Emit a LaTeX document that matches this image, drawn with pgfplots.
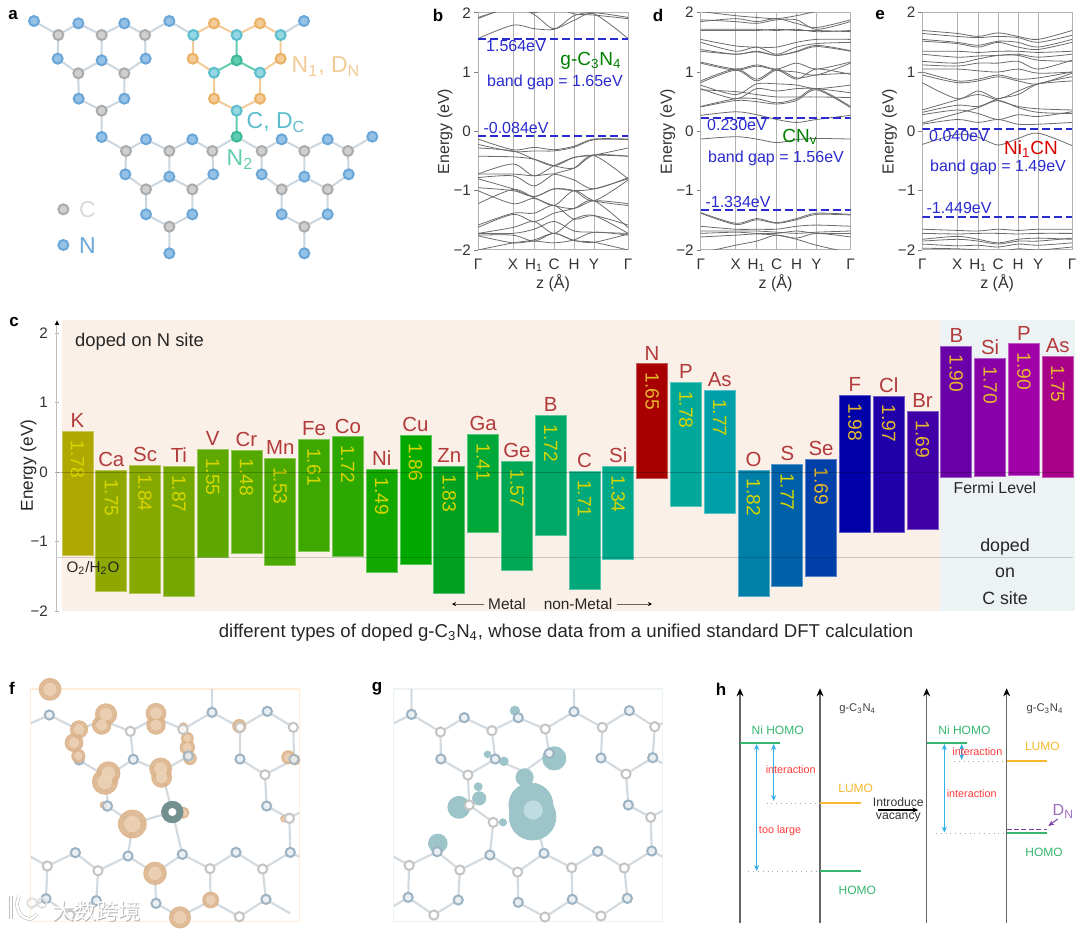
\documentclass[border=0pt]{standalone}
\usepackage{fontspec}
\setmainfont{Liberation Sans}
\newfontfamily\cjk{Noto Sans CJK SC}
\usepackage{pgfplots}
\pgfplotsset{compat=1.18}
\usetikzlibrary{arrows.meta}

\newcommand\fs[1]{\fontsize{#1}{#1}\selectfont}
\newcommand\sub[1]{\textsubscript{#1}}
\newcommand\lft[1]{#1\hspace{5pt}}

\definecolor{bondc}{HTML}{CAD6E0}
\definecolor{cfill}{HTML}{CFCFCF}\definecolor{cring}{HTML}{ABABAB}
\definecolor{nfill}{HTML}{94C1E6}\definecolor{nring}{HTML}{6BA6D8}
\definecolor{tfill}{HTML}{93D7E3}\definecolor{tring}{HTML}{5CBDCE}
\definecolor{ofill}{HTML}{F3CB96}\definecolor{oring}{HTML}{EAB064}
\definecolor{gfill}{HTML}{5FCDB0}\definecolor{gring}{HTML}{3DB99A}
\definecolor{elem}{HTML}{B23A3A}
\definecolor{vy}{HTML}{D8D600}\definecolor{vo}{HTML}{E6B92E}
\definecolor{gapblue}{HTML}{2A2AD0}
\definecolor{peach}{HTML}{FAF0E8}\definecolor{ice}{HTML}{EDF3F5}
\definecolor{fblob}{HTML}{DCB48C}\definecolor{fin}{HTML}{EDD3B8}
\definecolor{gblob}{HTML}{9CC4C9}\definecolor{gin}{HTML}{BFDDE0}
\definecolor{gatomf}{HTML}{E9EFF3}\definecolor{gatomr}{HTML}{9DB2C2}
\definecolor{cgatomr}{HTML}{C4C4C4}\definecolor{bondl}{HTML}{D3DBE0}
\definecolor{hgreen}{HTML}{35B56E}\definecolor{horange}{HTML}{F5B82E}
\definecolor{hcyan}{HTML}{30B0E8}\definecolor{hred}{HTML}{FF3A3A}\definecolor{hviolet}{HTML}{7B3FA8}
\definecolor{b0}{HTML}{AEA800}\definecolor{b1}{HTML}{8EA800}\definecolor{b2}{HTML}{86A800}
\definecolor{b3}{HTML}{74A800}\definecolor{b4}{HTML}{5FA800}\definecolor{b5}{HTML}{55A800}
\definecolor{b6}{HTML}{4AA800}\definecolor{b7}{HTML}{3CA800}\definecolor{b8}{HTML}{2CA800}
\definecolor{b9}{HTML}{12A800}\definecolor{b10}{HTML}{00A800}\definecolor{b11}{HTML}{00A020}
\definecolor{b12}{HTML}{00A83A}\definecolor{b13}{HTML}{00A855}\definecolor{b14}{HTML}{00A868}
\definecolor{b15}{HTML}{00A87A}\definecolor{b16}{HTML}{00A88A}\definecolor{b17}{HTML}{A80000}
\definecolor{b18}{HTML}{00A89A}\definecolor{b19}{HTML}{009FAA}\definecolor{b20}{HTML}{0080A8}
\definecolor{b21}{HTML}{0060A8}\definecolor{b22}{HTML}{0040A8}\definecolor{b23}{HTML}{0000A8}
\definecolor{b24}{HTML}{2000A8}\definecolor{b25}{HTML}{4000A8}\definecolor{b26}{HTML}{6A00A8}
\definecolor{b27}{HTML}{8800A8}\definecolor{b28}{HTML}{A000A8}\definecolor{b29}{HTML}{A80088}

% region of the reference, in its pixels: left, top, right, bottom (1 px = 0.5 pt)
\pgfplotsset{
  region/.style n args={4}{
    at={({0.5pt*#1},{0.5pt*(931-#4)})}, anchor=south west, scale only axis,
    width={0.5pt*(#3-#1)}, height={0.5pt*(#4-#2)}},
  canvas/.style={hide axis, clip=false, y dir=reverse},
  bandaxis/.style={
    xmin=0, xmax=150, ymin=-2, ymax=2,
    xtick={0,35,56,76,96,116,150},
    xticklabels={Γ,X,H\sub{1},C,H,Y,Γ},
    ytick={-2,-1,0,1,2}, yticklabels={−2,−1,0,1,2},
    xmajorgrids, grid style={black!30,line width=.4pt},
    axis line style={black!30,line width=.5pt},
    tick pos=left, tick align=outside, major tick length=2pt,
    y tick style={black!50}, x tick style={draw=none},
    tick label style={font=\fs{7.6}, text=black!80},
    xticklabel style={yshift=1pt}, yticklabel style={xshift=2pt},
    xlabel={z (Å)}, ylabel={Energy (eV)},
    label style={font=\fs{8}, text=black!80},
    xlabel style={at={(axis description cs:0.5,-0.14)},anchor=center},
    ylabel style={at={(axis description cs:-0.22,0.5)},anchor=center}},
  band/.style={black!58,line width=.4pt,smooth,tension=.5},
  gapline/.style={gapblue,line width=1pt,dash pattern=on 4pt off 2pt},
  bond/.style={bondc,line width=1pt,unbounded coords=jump},
  lbond/.style={bondl,line width=1.1pt,unbounded coords=jump},
  atom/.style n args={3}{only marks,mark=*,mark size=#3,
    mark options={fill=#1,draw=#2,line width=1pt}},
  blob/.style n args={2}{only marks,mark=*,
    visualization depends on={#1*\thisrow{r}/6 \as \perpointmarksize},
    scatter, scatter/@pre marker code/.style={/tikz/mark size=\perpointmarksize},
    scatter/@post marker code/.style={},
    mark options={fill=#2,draw=#2}},
  harrow/.style={hcyan,line width=.55pt,{Stealth[length=3pt,width=2.5pt]}-{Stealth[length=3pt,width=2.5pt]}},
}

% one Gamma-X-H1-C-H-Y-Gamma band
\newcommand\bb[7]{\addplot[band] coordinates {(0,#1)(35,#2)(56,#3)(76,#4)(96,#5)(116,#6)(150,#7)};}
% one level bar: id, left, right, top, bottom, element, gap, colour of the gap
\newcommand\lev[8]{%
  \addplot[fill=b#1,draw=b#1!65!white,line width=.4pt] coordinates {(#2,#5)(#3,#5)(#3,#4)(#2,#4)} -- cycle;
  \node[anchor=south,font=\fs{10.2},text=elem,inner sep=0pt,yshift=1.6pt] at (axis cs:{#2+15.5},#4) {#6};
  \node[rotate=-90,anchor=west,font=\fs{9.6},text=#8,inner sep=0pt,xshift=4.2pt] at (axis cs:{#2+15.5},#4) {#7};
}

\pgfplotstableread{
x y r
150 58 33
318 133 32
305 165 28
237 178 26
222 218 27
235 258 20
468 130 30
468 165 28
550 170 12
562 205 18
562 232 22
570 265 19
718 168 20
865 262 20
885 270 15
482 297 33
485 322 30
315 335 38
325 310 35
310 405 10
397 462 42
550 428 17
465 610 34
632 690 24
540 742 32
852 446 10
}\blobsf
\pgfplotstableread{
x y r
548 440 70
543 405 66
524 322 26
327 412 33
388 385 20
385 350 12
613 265 35
495 122 14
413 253 10
462 274 13
459 457 11
264 520 28
}\blobsg

\begin{document}
\begin{tikzpicture}
\path[use as bounding box] (0,0) rectangle (540pt,465.5pt);

% a: lattice, coordinates at three times the reference's pixels
\begin{axis}[region={0}{0}{420}{300},canvas,xmin=0,xmax=1260,ymin=0,ymax=900]
\addplot[bond] coordinates {(102,63)(175,105)(235,70)(305,105)(373,70)(435,105)(508,63)(580,105)
 (0,nan)(175,105)(173,176)(235,220)(305,181)(373,220)(437,176)(435,105)
 (0,nan)(305,105)(305,181)
 (0,nan)(235,220)(236,296)(305,332)(373,296)(373,220)
 (0,nan)(305,332)(305,411)(378,453)(438,418)(508,453)(577,418)(637,453)(710,410)(785,453)(845,418)(913,453)(983,418)(1044,453)(1117,410)
 (0,nan)(378,453)(376,523)(438,568)(508,530)(577,568)(640,523)(637,453)
 (0,nan)(508,453)(508,530)
 (0,nan)(438,568)(438,643)(508,680)(577,643)(577,568)
 (0,nan)(508,680)(508,760)
 (0,nan)(785,453)(785,523)(845,568)(913,530)(983,568)(1046,523)(1044,453)
 (0,nan)(913,453)(913,530)
 (0,nan)(845,568)(845,643)(913,680)(983,643)(983,568)
 (0,nan)(913,680)(913,760)
 (0,nan)(842,105)(912,63)};
\addplot[ofill,line width=1pt,unbounded coords=jump] coordinates {(580,105)(642,70)(710,105)(780,70)(842,105)(842,176)(780,218)
 (0,nan)(580,105)(578,176)(642,218)(642,296)(710,332)(780,296)(780,218)};
\addplot[gfill,line width=1pt,unbounded coords=jump] coordinates {(642,218)(710,181)(780,218)(0,nan)(710,105)(710,181)(0,nan)(710,332)(710,410)};
\addplot[atom={cfill}{cring}{2.5pt}] coordinates {(175,105)(305,105)(435,105)(235,220)(373,220)(305,332)
 (378,453)(508,453)(637,453)(438,568)(577,568)(508,680)(785,453)(913,453)(1044,453)(845,568)(983,568)(913,680)(190,628)};
\addplot[atom={nfill}{nring}{2.5pt}] coordinates {(102,63)(235,70)(373,70)(508,63)(173,176)(305,181)(437,176)(236,296)(373,296)(305,411)
 (438,418)(577,418)(376,523)(508,530)(640,523)(438,643)(577,643)(508,760)
 (845,418)(983,418)(1117,410)(785,523)(913,530)(1046,523)(845,643)(983,643)(913,760)(912,63)(190,735)};
\addplot[atom={tfill}{tring}{2.5pt}] coordinates {(580,105)(710,105)(842,105)(642,218)(780,218)(710,332)};
\addplot[atom={ofill}{oring}{2.5pt}] coordinates {(642,70)(780,70)(578,176)(842,176)(642,296)(780,296)};
\addplot[atom={gfill}{gring}{2.5pt}] coordinates {(710,181)(710,410)};
\node[font=\fs{11.5},text=ofill] at (axis cs:978,200) {N\sub{1}, D\sub{N}};
\node[font=\fs{11.5},text=tring] at (axis cs:828,368) {C, D\sub{C}};
\node[font=\fs{11.5},text=gfill] at (axis cs:720,478) {N\sub{2}};
\node[font=\fs{11.5},text=black!15] at (axis cs:262,630) {C};
\node[font=\fs{11.5},text=nring] at (axis cs:262,738) {N};
\end{axis}

% b
\begin{axis}[region={478}{12.7}{628}{250},bandaxis]
\bb{1.564}{1.79}{1.73}{1.72}{1.87}{1.98}{1.564}
\bb{1.92}{2.08}{1.97}{1.73}{1.95}{2.0}{1.92}
\bb{1.90}{2.10}{2.0}{2.10}{1.98}{1.96}{1.90}
\bb{-0.13}{-0.31}{-0.27}{-0.31}{-0.25}{-0.13}{-0.13}
\bb{-0.22}{-0.34}{-0.33}{-0.33}{-0.27}{-0.14}{-0.14}
\bb{-0.28}{-0.33}{-0.47}{-0.58}{-0.44}{-0.40}{-0.28}
\bb{-0.42}{-0.43}{-0.47}{-0.58}{-0.62}{-0.40}{-0.42}
\bb{-0.72}{-0.55}{-0.75}{-0.58}{-0.44}{-0.40}{-0.42}
\bb{-0.72}{-0.72}{-0.75}{-0.72}{-0.82}{-0.97}{-0.78}
\bb{-0.78}{-0.75}{-0.92}{-0.72}{-0.62}{-0.41}{-0.80}
\bb{-0.80}{-0.97}{-1.10}{-0.97}{-1.0}{-1.17}{-0.82}
\bb{-0.95}{-1.0}{-1.10}{-0.97}{-1.0}{-0.97}{-0.80}
\bb{-1.22}{-0.98}{-1.12}{-1.25}{-1.30}{-1.17}{-1.22}
\bb{-1.0}{-1.22}{-1.13}{-1.25}{-1.0}{-1.17}{-1.25}
\bb{-1.58}{-1.38}{-1.38}{-1.25}{-1.48}{-1.42}{-1.58}
\bb{-1.62}{-1.40}{-1.52}{-1.38}{-1.30}{-1.17}{-1.62}
\bb{-1.72}{-1.62}{-1.52}{-1.72}{-1.48}{-1.42}{-1.72}
\bb{-1.72}{-1.72}{-1.65}{-1.52}{-1.68}{-1.70}{-1.72}
\bb{-1.75}{-1.75}{-1.85}{-1.72}{-1.84}{-1.87}{-1.73}
\bb{-1.76}{-1.88}{-1.85}{-1.88}{-1.83}{-1.70}{-1.75}
\bb{-2.0}{-1.88}{-1.83}{-1.72}{-1.84}{-1.87}{-2.0}
\addplot[gapline] coordinates {(0,1.564)(150,1.564)};
\addplot[gapline] coordinates {(0,-0.084)(150,-0.084)};
\end{axis}

% d
\begin{axis}[region={700.7}{12.7}{850.5}{250},bandaxis]
\bb{2.02}{1.95}{1.92}{1.90}{1.95}{2.02}{2.1}
\bb{1.88}{1.85}{1.82}{1.88}{1.88}{1.72}{1.85}
\bb{1.85}{1.90}{1.85}{1.90}{1.82}{1.75}{1.88}
\bb{1.72}{1.72}{1.72}{1.70}{1.72}{1.68}{1.70}
\bb{1.70}{1.70}{1.70}{1.72}{1.70}{1.70}{1.68}
\bb{1.55}{1.44}{1.42}{1.42}{1.50}{1.55}{1.55}
\bb{1.50}{1.35}{1.42}{1.30}{1.42}{1.48}{1.50}
\bb{1.38}{1.30}{1.35}{1.28}{1.35}{1.45}{1.36}
\bb{1.35}{1.30}{1.34}{1.28}{1.34}{1.43}{1.35}
\bb{1.17}{1.05}{1.12}{1.05}{1.15}{1.05}{1.17}
\bb{1.15}{1.03}{1.10}{1.03}{1.00}{0.95}{1.15}
\bb{0.85}{1.05}{0.88}{1.05}{0.90}{0.95}{0.98}
\bb{0.82}{1.03}{0.85}{1.03}{0.88}{1.05}{0.96}
\bb{0.78}{0.62}{0.80}{0.80}{0.78}{0.72}{0.78}
\bb{0.72}{0.55}{0.72}{0.68}{0.72}{0.72}{0.65}
\bb{0.42}{0.55}{0.55}{0.48}{0.55}{0.72}{0.42}
\bb{0.41}{0.52}{0.50}{0.46}{0.52}{0.70}{0.40}
\bb{0.70}{0.67}{0.62}{0.58}{0.58}{0.58}{0.57}
\bb{0.27}{0.33}{0.28}{0.2}{0.15}{0.2}{0.27}
\bb{-0.13}{-0.09}{-0.13}{-0.19}{-0.14}{-0.12}{-0.13}
\bb{-1.37}{-1.55}{-1.47}{-1.54}{-1.47}{-1.38}{-1.40}
\bb{-1.38}{-1.57}{-1.49}{-1.55}{-1.49}{-1.40}{-1.41}
\bb{-1.60}{-1.65}{-1.65}{-1.65}{-1.60}{-1.58}{-1.60}
\bb{-1.68}{-1.68}{-1.68}{-1.70}{-1.72}{-1.70}{-1.68}
\bb{-1.72}{-1.70}{-1.72}{-1.72}{-1.68}{-1.72}{-1.72}
\bb{-1.78}{-1.75}{-1.73}{-1.75}{-1.80}{-1.72}{-1.78}
\bb{-2.05}{-1.92}{-1.85}{-1.75}{-1.82}{-1.92}{-2.05}
\addplot[gapline] coordinates {(0,0.23)(150,0.23)};
\addplot[gapline] coordinates {(0,-1.334)(150,-1.334)};
\end{axis}

% e
\begin{axis}[region={922.3}{12.7}{1072}{250},bandaxis]
\bb{1.70}{1.65}{1.60}{1.66}{1.60}{1.55}{1.70}
\bb{1.65}{1.60}{1.58}{1.60}{1.58}{1.50}{1.62}
\bb{1.55}{1.50}{1.45}{1.52}{1.50}{1.42}{1.55}
\bb{1.52}{1.48}{1.42}{1.50}{1.42}{1.38}{1.50}
\bb{1.35}{1.35}{1.33}{1.35}{1.35}{1.33}{1.35}
\bb{1.30}{1.25}{1.27}{1.28}{1.30}{1.25}{1.30}
\bb{1.18}{1.15}{1.22}{1.28}{1.28}{1.2}{1.18}
\bb{1.12}{1.10}{1.15}{1.15}{1.18}{1.05}{1.20}
\bb{1.05}{1.05}{1.02}{1.0}{1.05}{0.98}{1.0}
\bb{1.0}{0.85}{0.88}{0.95}{0.88}{0.9}{1.0}
\bb{0.95}{0.82}{0.85}{0.92}{0.85}{0.80}{0.98}
\bb{0.82}{0.55}{0.68}{0.55}{0.68}{0.80}{0.85}
\bb{0.36}{0.53}{0.62}{0.52}{0.42}{0.38}{0.36}
\bb{0.32}{0.44}{0.42}{0.55}{0.62}{0.80}{0.92}
\bb{0.28}{0.36}{0.30}{0.20}{0.28}{0.25}{0.33}
\bb{0.14}{0.30}{0.40}{0.52}{0.40}{0.32}{0.30}
\bb{0.12}{0.20}{0.15}{0.20}{0.12}{0.12}{0.15}
\bb{-0.22}{-0.05}{-0.10}{-0.23}{-0.12}{-0.03}{-0.24}
\bb{-1.65}{-1.67}{-1.68}{-1.65}{-1.67}{-1.65}{-1.65}
\bb{-1.72}{-1.73}{-1.72}{-1.72}{-1.73}{-1.72}{-1.72}
\bb{-1.82}{-1.77}{-1.82}{-1.88}{-1.82}{-1.80}{-1.82}
\bb{-1.85}{-1.82}{-1.85}{-1.90}{-1.85}{-1.85}{-1.80}
\bb{-1.90}{-1.93}{-1.92}{-1.95}{-1.90}{-1.92}{-1.88}
\bb{-1.97}{-1.98}{-2.0}{-2.03}{-1.98}{-2.0}{-1.95}
\addplot[gapline] coordinates {(0,0.04)(150,0.04)};
\addplot[gapline] coordinates {(0,-1.449)(150,-1.449)};
\end{axis}

% c: x in reference pixels, y in eV
\begin{axis}[region={57}{320}{1075}{611},
  xmin=57,xmax=1075,ymin=-2,ymax=2.19,
  axis x line=none, axis y line=left,
  axis line style={black!25,line width=.5pt,-{Latex[length=2.5pt,width=2.5pt,black]}},
  ytick={-2,-1,0,1,2}, yticklabels={−2,−1,0,1,2},
  tick style={black!30}, major tick length=2pt,
  tick label style={font=\fs{7.6},text=black!80},
  ylabel={Energy (eV)}, ylabel style={font=\fs{8.6},text=black!85,at={(axis description cs:-0.028,0.5)},anchor=center},
  clip=false]
\addplot[fill=peach,draw=none] coordinates {(62,-2)(940,-2)(940,2.19)(62,2.19)} -- cycle;
\addplot[fill=ice,draw=none] coordinates {(940,-2)(1075,-2)(1075,2.19)(940,2.19)} -- cycle;
\lev{0}{62}{93}{0.584}{-1.193}{\lft{K}}{1.78}{vy}
\lev{1}{95.8}{126.8}{0.024}{-1.725}{Ca}{1.75}{vy}
\lev{2}{129.6}{160.6}{0.096}{-1.744}{Sc}{1.84}{vy}
\lev{3}{163.4}{194.4}{0.081}{-1.787}{Ti}{1.87}{vy}
\lev{4}{197.2}{228.2}{0.326}{-1.226}{\lft{V}}{1.55}{vy}
\lev{5}{231}{262}{0.316}{-1.164}{Cr}{1.48}{vy}
\lev{6}{264.8}{295.8}{0.196}{-1.337}{Mn}{1.53}{vy}
\lev{7}{298.6}{329.6}{0.469}{-1.14}{Fe}{1.61}{vy}
\lev{8}{332.4}{363.4}{0.508}{-1.217}{Co}{1.72}{vy}
\lev{9}{366.2}{397.2}{0.043}{-1.447}{Ni}{1.49}{vy}
\lev{10}{400}{431}{0.532}{-1.327}{Cu}{1.86}{vy}
\lev{11}{433.8}{464.8}{0.086}{-1.753}{Zn}{1.83}{vy}
\lev{12}{467.6}{498.6}{0.537}{-0.872}{Ga}{1.41}{vy}
\lev{13}{501.4}{532.4}{0.158}{-1.413}{Ge}{1.57}{vy}
\lev{14}{535.2}{566.2}{0.814}{-0.905}{\lft{B}}{1.72}{vy}
\lev{15}{569}{600}{0.01}{-1.696}{\lft{C}}{1.71}{vy}
\lev{16}{602.8}{633.8}{0.081}{-1.255}{Si}{1.34}{vy}
\lev{17}{636.6}{667.6}{1.562}{-0.086}{\lft{N}}{1.65}{vo}
\lev{18}{670.4}{701.4}{1.293}{-0.493}{\lft{P}}{1.78}{vy}
\lev{19}{704.2}{735.2}{1.178}{-0.594}{As}{1.77}{vy}
\lev{20}{738}{769}{0.029}{-1.787}{\lft{O}}{1.82}{vy}
\lev{21}{771.8}{802.8}{0.11}{-1.653}{\lft{S}}{1.77}{vy}
\lev{22}{805.6}{836.6}{0.187}{-1.499}{Se}{1.69}{vo}
\lev{23}{839.4}{870.4}{1.111}{-0.867}{\lft{F}}{1.98}{vo}
\lev{24}{873.2}{904.2}{1.097}{-0.872}{Cl}{1.97}{vo}
\lev{25}{907}{938}{0.872}{-0.819}{Br}{1.69}{vo}
\lev{26}{940.8}{971.8}{1.816}{-0.081}{\lft{B}}{1.90}{vo}
\lev{27}{974.6}{1005.6}{1.643}{-0.057}{Si}{1.70}{vo}
\lev{28}{1008.4}{1039.4}{1.849}{-0.053}{\lft{P}}{1.90}{vo}
\lev{29}{1042.2}{1073.2}{1.667}{-0.081}{As}{1.75}{vo}
\addplot[black,opacity=.22,line width=.5pt] coordinates {(57,0)(1073,0)};
\addplot[black,opacity=.17,line width=.5pt] coordinates {(57,-1.23)(1073,-1.23)};
\end{axis}

% f
\begin{axis}[region={30.7}{689}{299.3}{921.7},y dir=reverse,xmin=92,xmax=898,ymin=57,ymax=755,
  xtick=\empty,ytick=\empty,axis line style={orange!15!white,line width=.6pt}]
\addplot[lbond] coordinates {(92,160)(148,135)(237,180)(305,150)(391,184)(468,143)(549,178)(636,127)(720,172)(802,124)(880,172)
 (0,nan)(636,127)(636,57)(0,nan)(237,180)(237,270)(0,nan)(391,184)(400,268)(0,nan)(549,178)(565,258)(0,nan)(720,172)(720,267)(0,nan)(880,172)(882,268)
 (0,nan)(237,270)(320,320)(400,268)(485,305)(565,258)(0,nan)(720,267)(795,314)(882,268)
 (0,nan)(795,314)(800,408)(868,445)(898,428)(0,nan)(868,445)(871,547)
 (0,nan)(320,320)(322,408)(398,460)(384,558)(0,nan)(398,460)(517,426)(0,nan)(485,305)(517,426)(547,553)
 (0,nan)(92,560)(142,588)(226,548)(294,602)(384,558)(465,610)(547,553)(630,596)(708,547)(788,597)(871,547)(898,560)
 (0,nan)(142,588)(138,686)(92,715)(0,nan)(294,602)(289,692)(0,nan)(465,610)(468,700)(0,nan)(630,596)(632,692)(0,nan)(788,597)(798,688)
 (0,nan)(138,686)(210,735)(289,692)(0,nan)(468,700)(540,740)(632,692)(718,740)(798,688)(870,730)};
\addplot[atom={white}{cgatomr}{2.3pt}] coordinates {(391,184)(549,178)(720,172)(880,172)(795,314)(868,445)(142,588)(294,602)(630,596)(788,597)(718,740)(210,735)};
\addplot[atom={gatomf}{gatomr}{2.3pt}] coordinates {(148,135)(802,124)(636,127)(720,267)(400,268)(882,268)(322,408)(800,408)(226,548)(384,558)(547,553)(708,547)(871,547)(138,686)(289,692)(468,700)(798,688)(305,150)(468,143)(237,270)(565,258)};
\addplot[blob={1}{fblob},opacity=.9] table[x=x,y=y] {\blobsf};
\addplot[blob={.55}{fin},opacity=.85] table[x=x,y=y] {\blobsf};
\addplot[atom={white!100}{cgatomr}{2.3pt},opacity=.85] coordinates {(549,178)(720,172)(868,445)};
\addplot[atom={gatomf}{gatomr}{2.3pt},opacity=.8] coordinates {(322,408)(565,258)(882,268)};
\addplot[only marks,mark=*,mark size=5.4pt,mark options={fill=teal!40!black!55!white,draw=teal!40!black!55!white}] coordinates {(517,426)};
\addplot[only marks,mark=*,mark size=1.8pt,mark options={fill=white,draw=white}] coordinates {(517,426)};
\end{axis}

% g
\begin{axis}[region={393.8}{689}{662.7}{921.7},y dir=reverse,xmin=132,xmax=938,ymin=57,ymax=755,
  xtick=\empty,ytick=\empty,axis line style={ice,line width=.6pt}]
\addplot[lbond] coordinates {(132,160)(185,133)(272,186)(343,143)(426,182)(505,143)(586,177)(672,125)(757,172)(838,122)(914,170)(938,160)
 (0,nan)(185,133)(185,57)(0,nan)(672,125)(672,57)(0,nan)(272,186)(273,267)(0,nan)(426,182)(436,267)(0,nan)(586,177)(598,250)(0,nan)(757,172)(753,264)(0,nan)(914,170)(908,263)
 (0,nan)(273,267)(354,315)(436,267)(522,305)(598,250)(0,nan)(753,264)(828,312)(908,263)(938,280)
 (0,nan)(828,312)(835,405)(902,442)(938,422)(0,nan)(902,442)(905,543)
 (0,nan)(354,315)(358,405)(430,457)(420,555)(0,nan)(522,305)(552,420)(582,550)
 (0,nan)(132,560)(178,586)(262,545)(330,600)(420,555)(503,606)(582,550)(665,593)(743,544)(823,594)(905,543)(938,560)
 (0,nan)(178,586)(175,682)(132,708)(0,nan)(330,600)(325,690)(0,nan)(503,606)(505,697)(0,nan)(665,593)(667,688)(0,nan)(823,594)(832,685)
 (0,nan)(175,682)(252,735)(325,690)(0,nan)(505,697)(585,741)(667,688)(753,738)(832,685)};
\addplot[blob={1}{gblob}] table[x=x,y=y] {\blobsg};
\addplot[only marks,mark=*,mark size=4.6pt,mark options={fill=gin,draw=gin}] coordinates {(550,420)};
\addplot[atom={white}{cgatomr}{2.3pt}] coordinates {(272,186)(426,182)(586,177)(757,172)(914,170)(354,315)(828,312)(902,442)(358,405)(430,457)(178,586)(330,600)(503,606)(665,593)(823,594)(252,735)(585,741)(753,738)};
\addplot[atom={gatomf}{gatomr}{2.3pt}] coordinates {(185,133)(343,143)(505,143)(672,125)(838,122)(273,267)(436,267)(598,250)(753,264)(908,263)(835,405)(262,545)(420,555)(582,550)(743,544)(905,543)(175,682)(325,690)(505,697)(667,688)(832,685)};
\end{axis}

% h: coordinates at three times the reference's pixels
\begin{axis}[region={700}{670}{1080}{930},canvas,xmin=0,xmax=1140,ymin=0,ymax=780]
\pgfplotsinvokeforeach{120,360,680,920}{
  \addplot[black!60,line width=.55pt,-{Stealth[length=4pt,width=3.5pt,black]}] coordinates {(#1,760)(#1,55)};}
\addplot[black!35,line width=.4pt,dotted] coordinates {(200,400)(360,400)};
\addplot[black!35,line width=.4pt,dotted] coordinates {(145,603)(360,603)};
\addplot[black!35,line width=.4pt,dotted] coordinates {(762,273)(920,273)};
\addplot[black!35,line width=.4pt,dotted] coordinates {(708,490)(920,490)};
\addplot[hgreen,line width=.9pt] coordinates {(120,220)(240,220)};
\addplot[hgreen,line width=.9pt] coordinates {(360,603)(482,603)};
\addplot[hgreen,line width=.9pt] coordinates {(680,218)(800,218)};
\addplot[hgreen,line width=.9pt] coordinates {(920,490)(1040,490)};
\addplot[horange,line width=.9pt] coordinates {(360,398)(482,398)};
\addplot[horange,line width=.9pt] coordinates {(920,272)(1040,272)};
\addplot[harrow] coordinates {(170,222)(170,603)};
\addplot[harrow] coordinates {(221,222)(221,393)};
\addplot[harrow] coordinates {(733,222)(733,488)};
\addplot[harrow] coordinates {(785,222)(785,270)};
\addplot[hviolet,line width=.7pt,dash pattern=on 2.5pt off 1.2pt] coordinates {(920,478)(1042,478)};
\addplot[hviolet,line width=.5pt,-{Stealth[length=3pt,width=2.5pt]}] coordinates {(1073,447)(1045,468)};
\addplot[black,line width=.6pt,-{Stealth[length=3pt,width=2.5pt]}] coordinates {(535,420)(655,420)};
\node[font=\fs{5.6},text=black!75] at (axis cs:473,117) {g-C\sub{3}N\sub{4}};
\node[font=\fs{5.6},text=black!75] at (axis cs:1035,117) {g-C\sub{3}N\sub{4}};
\node[font=\fs{6},text=hgreen] at (axis cs:233,180) {Ni HOMO};
\node[font=\fs{6},text=hgreen] at (axis cs:793,180) {Ni HOMO};
\node[font=\fs{6},text=hgreen] at (axis cs:472,660) {HOMO};
\node[font=\fs{6},text=hgreen] at (axis cs:1032,546) {HOMO};
\node[font=\fs{6},text=horange] at (axis cs:467,355) {LUMO};
\node[font=\fs{6},text=horange] at (axis cs:1027,230) {LUMO};
\node[font=\fs{5.4},text=hred] at (axis cs:272,298) {interaction};
\node[font=\fs{5.4},text=hred] at (axis cs:832,246) {interaction};
\node[font=\fs{5.4},text=hred] at (axis cs:815,370) {interaction};
\node[font=\fs{5.4},text=hred] at (axis cs:240,483) {too large};
\node[font=\fs{6.1},text=black!80] at (axis cs:595,397) {Introduce};
\node[font=\fs{6.1},text=black!80] at (axis cs:595,443) {vacancy};
\node[font=\fs{8},text=hviolet!75!white] at (axis cs:1090,425) {D\sub{N}};
\end{axis}

% texts, in the reference's pixels
\begin{axis}[region={0}{0}{1080}{931},canvas,xmin=0,xmax=1080,ymin=0,ymax=931]
\addplot[draw=none] coordinates {(0,0)(1080,931)};
\node[font=\fs{8.5}\bfseries] at (axis cs:13,15) {a};
\node[font=\fs{8.5}\bfseries] at (axis cs:438,15) {b};
\node[font=\fs{8.5}\bfseries] at (axis cs:658,15) {d};
\node[font=\fs{8.5}\bfseries] at (axis cs:880,15) {e};
\node[font=\fs{8.5}\bfseries] at (axis cs:14,322) {c};
\node[font=\fs{8.5}\bfseries] at (axis cs:12,688) {f};
\node[font=\fs{8.5}\bfseries] at (axis cs:377,689) {g};
\node[font=\fs{8.5}\bfseries] at (axis cs:721,689) {h};
\node[font=\fs{8},text=gapblue] at (axis cs:516,46) {1.564eV};
\node[font=\fs{8},text=gapblue] at (axis cs:516,128) {-0.084eV};
\node[font=\fs{8},text=gapblue] at (axis cs:555,82) {band gap = 1.65eV};
\node[font=\fs{8},text=gapblue] at (axis cs:737,125) {0.230eV};
\node[font=\fs{8},text=gapblue] at (axis cs:738,202) {-1.334eV};
\node[font=\fs{8},text=gapblue] at (axis cs:776,158) {band gap = 1.56eV};
\node[font=\fs{8},text=gapblue] at (axis cs:959,136) {0.040eV};
\node[font=\fs{8},text=gapblue] at (axis cs:959,208) {-1.449eV};
\node[font=\fs{8},text=gapblue] at (axis cs:998,167) {band gap = 1.49eV};
\node[font=\fs{9.5},text=green!50!black] at (axis cs:591,61) {g-C\sub{3}N\sub{4}};
\node[font=\fs{9.5},text=green!50!black] at (axis cs:800,137) {CN\sub{v}};
\node[font=\fs{9.5},text=red!85!black] at (axis cs:1031,149) {Ni\sub{1}CN};
\node[font=\fs{9.2},text=black!85,anchor=west] at (axis cs:68,342) {doped on N site};
\node[font=\fs{7.6},text=black!85] at (axis cs:93,568) {O\sub{2}/H\sub{2}O};
\node[font=\fs{7.9},text=black!85] at (axis cs:995,488) {Fermi Level};
\node[font=\fs{8.9},text=black!85] at (axis cs:1005,547) {doped};
\node[font=\fs{8.9},text=black!85] at (axis cs:1005,573) {on};
\node[font=\fs{8.9},text=black!85] at (axis cs:1005,598) {C site};
\node[font=\fs{7.7},text=black!85] at (axis cs:507,604) {Metal};
\node[font=\fs{7.7},text=black!85] at (axis cs:578,604) {non-Metal};
\addplot[black!60,line width=.4pt,-{Stealth[length=2pt,width=2pt,black]}] coordinates {(484,604)(452,604)};
\addplot[black!60,line width=.4pt,-{Stealth[length=2pt,width=2pt,black]}] coordinates {(617,604)(652,604)};
\node[font=\fs{9.3},text=black!85] at (axis cs:566,633) {different types of doped g-C\sub{3}N\sub{4}, whose data from a unified standard DFT calculation};
% watermark
\addplot[only marks,mark=o,mark size=2.4pt,mark options={draw=black!12,line width=.9pt}] coordinates {(32,903)(42,903)};
\addplot[black!25,line width=1.8pt,smooth] coordinates {(19,896)(17,905)(21,915)(30,919)(37,914)};
\addplot[black!25,line width=1.8pt] coordinates {(11,896)(11,919)};
\addplot[white,line width=1.2pt,smooth] coordinates {(19,896)(17,905)(21,915)(30,919)(37,914)};
\addplot[white,line width=1.2pt] coordinates {(11,896)(11,919)};
\node[font=\cjk\fs{11},text=black!30] at (axis cs:97,912) {大数跨境};
\node[font=\cjk\fs{11},text=white] at (axis cs:96,911) {大数跨境};
\end{axis}
\end{tikzpicture}
\end{document}
